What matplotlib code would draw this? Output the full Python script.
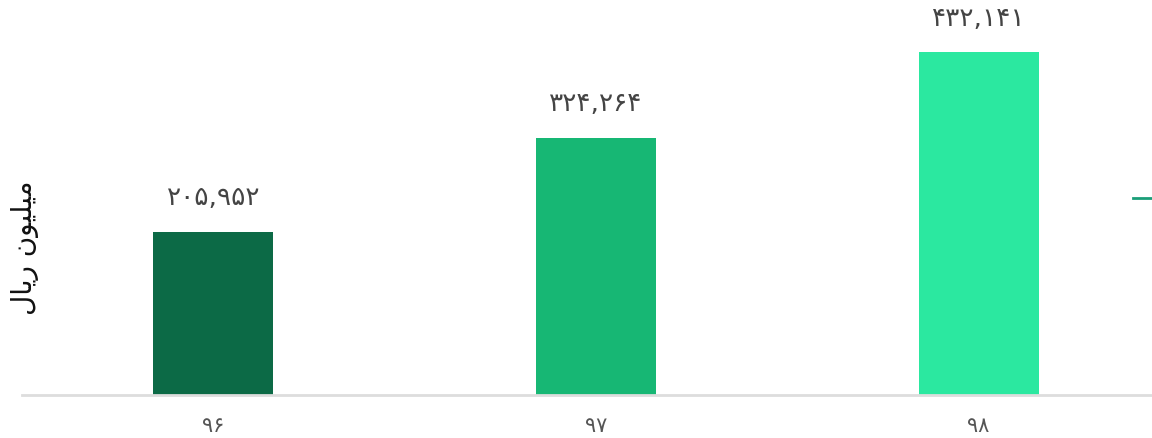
import matplotlib.pyplot as plt
from matplotlib.lines import Line2D

years = ['۹۶', '۹۷', '۹۸']
values = [205952, 324264, 432141]
value_labels = ['۲۰۵,۹۵۲', '۳۲۴,۲۶۴', '۴۳۲,۱۴۱']
colors = ['#0c6a46', '#17b774', '#2be8a0']
# "میلیون ریال" pre-shaped in presentation forms, visual order
ylabel = '\ufedd\ufe8e\ufef3\ufead \ufee5\ufeee\ufef4\ufee0\ufef4\ufee3'

W, H = 1152, 438
fig = plt.figure(figsize=(W / 100, H / 100), dpi=100)
ax = fig.add_axes([22 / W, 43 / H, 1148 / W, 395 / H])

x = range(len(years))
ax.bar(x, values, width=0.314, color=colors)
ax.set_xlim(-0.5, 2.5)
ax.set_ylim(0, 497700)

for xi, v, lab in zip(x, values, value_labels):
    ax.annotate(lab, (xi, v), xytext=(0, 24), textcoords='offset points',
                ha='center', va='center', fontsize=19, color='#444444',
                family='DejaVu Sans')

ax.set_xticks(list(x))
ax.set_xticklabels(years, fontsize=15, color='#555555')
ax.tick_params(axis='x', length=0, pad=15)
ax.set_yticks([])
for s in ['top', 'right', 'left']:
    ax.spines[s].set_visible(False)
ax.spines['bottom'].set_color('#dddddd')
ax.spines['bottom'].set_linewidth(2)

fig.text(25 / W, 1 - 248 / H, ylabel, rotation=90, ha='center', va='center',
         fontsize=20, color='#111111', family='DejaVu Sans')

fig.add_artist(Line2D([1133 / W, 1152 / W], [1 - 198 / H, 1 - 198 / H],
                      color='#1a9e78', lw=2, transform=fig.transFigure))

fig.savefig('out.png', dpi=100)
